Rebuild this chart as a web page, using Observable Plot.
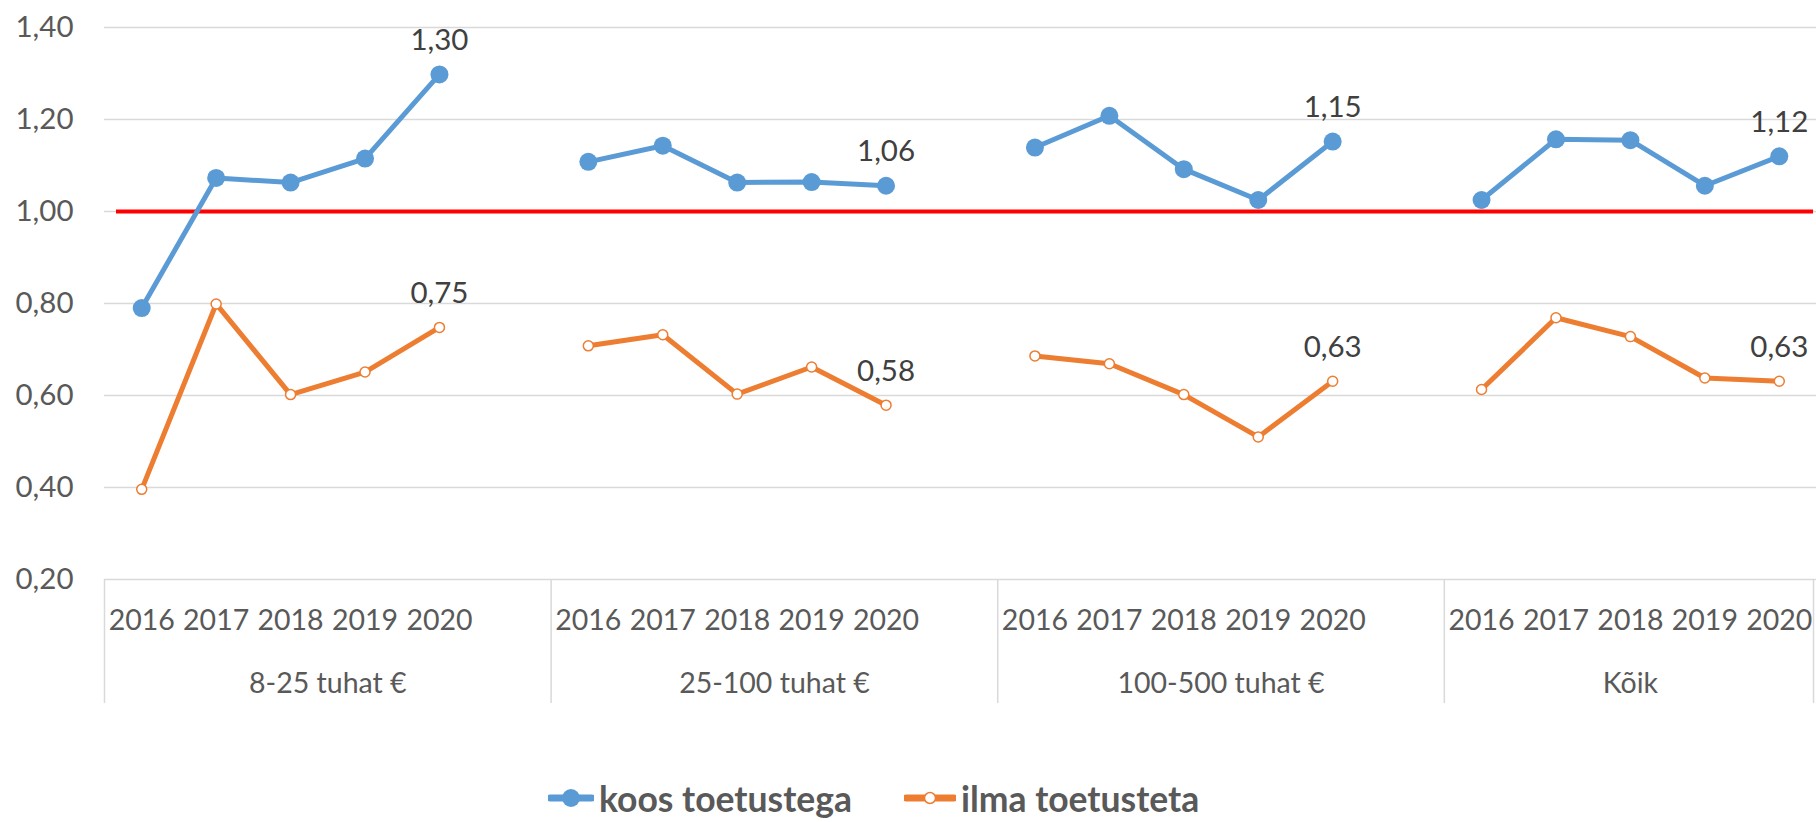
<!DOCTYPE html>
<html>
<head>
<meta charset="utf-8">
<script src="https://cdn.jsdelivr.net/npm/d3@7"></script>
<script src="https://cdn.jsdelivr.net/npm/@observablehq/plot@0.6"></script>
<style>
  html, body { margin: 0; padding: 0; background: #fff; }
  body { width: 1816px; height: 822px; overflow: hidden; font-family: Lato, "Open Sans", sans-serif; }
  #legend { display: flex; align-items: center; height: 40px; margin-top: 58px; margin-left: 548px; color: #595959; font-weight: bold; font-size: 35.5px; }
  #legend .item { display: flex; align-items: center; }
  #legend .item + .item { margin-left: 52px; }
  #legend svg { margin-right: 5px; }
</style>
</head>
<body>
<div id="chart"></div>
<div id="legend"></div>
<script>
const groups = ["8-25 tuhat €", "25-100 tuhat €", "100-500 tuhat €", "Kõik"];
const years = ["2016", "2017", "2018", "2019", "2020"];
const seriesNames = ["koos toetustega", "ilma toetusteta"];
const seriesColors = ["#5b9bd5", "#ed7d31"];
const koos = [
  [0.790, 1.073, 1.063, 1.115, 1.298],
  [1.108, 1.143, 1.063, 1.064, 1.056],
  [1.139, 1.208, 1.092, 1.025, 1.152],
  [1.025, 1.157, 1.155, 1.056, 1.120]
];
const ilma = [
  [0.396, 0.799, 0.602, 0.651, 0.748],
  [0.708, 0.732, 0.603, 0.662, 0.579],
  [0.686, 0.669, 0.602, 0.510, 0.631],
  [0.613, 0.769, 0.728, 0.638, 0.631]
];
const yTicks = [0.2, 0.4, 0.6, 0.8, 1.0, 1.2, 1.4];
const reference = [1.0];

const W = 1816, H = 720;
const mL = 104, mR = 0, mT = 27, mB = H - 579;

// x domain: each group's years, with a blank slot after each group but the last
const domain = [];
groups.forEach((g, gi) => {
  if (gi > 0) domain.push("gap" + gi);
  years.forEach(y => domain.push(gi + "|" + y));
});
const step = (W - mL - mR) / domain.length;

function rows(values, s) {
  const out = [];
  values.forEach((arr, gi) => arr.forEach((v, yi) => out.push({
    key: gi + "|" + years[yi], group: groups[gi], year: years[yi], value: v, series: s
  })));
  return out;
}
const koosData = rows(koos, seriesNames[0]);
const ilmaData = rows(ilma, seriesNames[1]);
const fmt = v => v.toFixed(2).replace(".", ",");
const yearKeys = domain.filter(d => d.includes("|"));
const last = groups.length - 1;
// group label spans its years plus the following blank slot (last group has none)
const midKeysGap = groups.slice(0, last).map((g, gi) => gi + "|" + years[2]);
const midKeysLast = [last + "|" + years[2]];
const startKeys = groups.map((g, gi) => gi + "|" + years[0]);
const endKeys = [last + "|" + years[years.length - 1]];
const groupName = d => groups[+d.split("|")[0]];

const FS = 28.5;
const chart = Plot.plot({
  width: W, height: H,
  marginLeft: mL, marginRight: mR, marginTop: mT, marginBottom: mB,
  style: { fontFamily: "Lato, 'Open Sans', sans-serif", background: "#fff", overflow: "visible" },
  x: { type: "point", domain, padding: 0.5, align: 0.5, round: false, axis: null },
  y: { domain: [0.2, 1.4], axis: null },
  marks: [
    Plot.gridY(yTicks, { stroke: "#d9d9d9", strokeOpacity: 1, strokeWidth: 1.5 }),
    Plot.axisY({ ticks: yTicks, tickFormat: fmt, tickSize: 0, tickPadding: 31, fontSize: 29.5, fill: "#595959", label: null }),
    Plot.axisX({ ticks: yearKeys, tickFormat: d => d.split("|")[1], tickSize: 0, tickPadding: 30, fontSize: FS, fill: "#595959", label: null }),
    Plot.axisX({ ticks: midKeysGap, tickFormat: groupName, tickSize: 0, tickPadding: 93, dx: step / 2, fontSize: FS, fill: "#595959", label: null }),
    Plot.axisX({ ticks: midKeysLast, tickFormat: groupName, tickSize: 0, tickPadding: 93, fontSize: FS, fill: "#595959", label: null }),
    Plot.axisX({ ticks: startKeys, tickFormat: () => "", tickSize: 124, dx: -step / 2, stroke: "#d9d9d9", strokeWidth: 1.5, label: null }),
    Plot.axisX({ ticks: endKeys, tickFormat: () => "", tickSize: 124, dx: step / 2 - 3, stroke: "#d9d9d9", strokeWidth: 1.5, label: null }),
    Plot.ruleY(reference, { stroke: "#ff0000", strokeWidth: 4, insetLeft: 12, insetRight: 3 }),
    Plot.line(koosData, { x: "key", y: "value", z: "group", stroke: seriesColors[0], strokeWidth: 5, strokeLinejoin: "round" }),
    Plot.line(ilmaData, { x: "key", y: "value", z: "group", stroke: seriesColors[1], strokeWidth: 5, strokeLinejoin: "round" }),
    Plot.dot(koosData, { x: "key", y: "value", r: 9, fill: seriesColors[0] }),
    Plot.dot(ilmaData, { x: "key", y: "value", r: 5, fill: "#fff", stroke: seriesColors[1], strokeWidth: 1.5 }),
    Plot.text(koosData.filter(d => d.year === "2020"), { x: "key", y: "value", text: d => fmt(d.value), dy: -34, fontSize: 29.5, fill: "#404040" }),
    Plot.text(ilmaData.filter(d => d.year === "2020"), { x: "key", y: "value", text: d => fmt(d.value), dy: -34, fontSize: 29.5, fill: "#404040" })
  ]
});
document.getElementById("chart").appendChild(chart);

// legend
const legend = d3.select("#legend");
seriesNames.forEach((name, i) => {
  const item = legend.append("div").attr("class", "item");
  const w = i === 0 ? 46 : 52;
  const svg = item.append("svg").attr("width", w).attr("height", 24);
  svg.append("line").attr("x1", 2).attr("x2", w - 2).attr("y1", 12).attr("y2", 12)
    .attr("stroke", seriesColors[i]).attr("stroke-width", 7).attr("stroke-linecap", "round");
  if (i === 0) svg.append("circle").attr("cx", w / 2).attr("cy", 12).attr("r", 9).attr("fill", seriesColors[i]);
  else svg.append("circle").attr("cx", w / 2).attr("cy", 12).attr("r", 5.5).attr("fill", "#fff").attr("stroke", seriesColors[i]).attr("stroke-width", 1.5);
  item.append("span").text(name);
});
</script>
</body>
</html>
